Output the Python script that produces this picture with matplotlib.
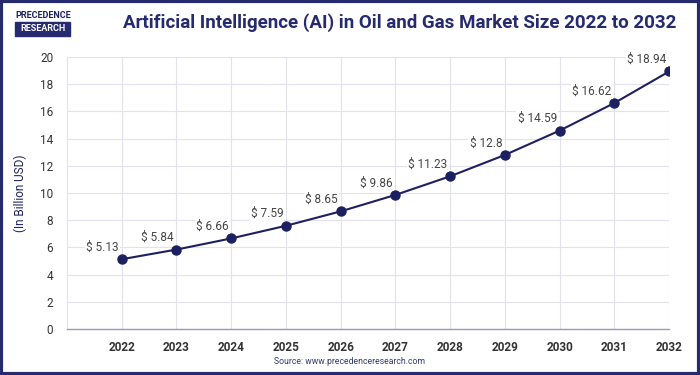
import matplotlib
matplotlib.use("Agg")
import matplotlib.pyplot as plt
from matplotlib.patches import Rectangle

years = ["2022", "2023", "2024", "2025", "2026", "2027", "2028", "2029", "2030", "2031", "2032"]
market_size = [5.13, 5.84, 6.66, 7.59, 8.65, 9.86, 11.23, 12.8, 14.59, 16.62, 18.94]
y_ticks = [0, 2, 4, 6, 8, 10, 12, 14, 16, 18, 20]

navy = "#1d2060"
grid_col = "#e2e2ee"

plt.rcParams["font.family"] = ["Roboto", "DejaVu Sans"]

fig = plt.figure(figsize=(7, 3.75), dpi=100)
ax = fig.add_axes([0.0957, 0.1227, 0.8603, 0.7253])

xs = list(range(len(years)))
ax.plot(xs, market_size, color=navy, lw=1.5, marker="o", markersize=6.5, zorder=3)

for x, v in zip(xs, market_size):
    ax.annotate(f"$ {v:g}", (x, v), xytext=(-2, 4), textcoords="offset points",
                ha="right", va="bottom", fontsize=8.5, color="#444444",
                bbox=dict(boxstyle="square,pad=0.1", fc="white", ec="none"), zorder=4)

ax.set_xlim(-1, len(years) - 1)
ax.set_ylim(0, 20)
ax.set_xticks(xs)
ax.set_xticklabels(years, fontweight="bold", fontsize=8.5, color="#333333")
ax.set_yticks(y_ticks)
ax.set_yticklabels([str(t) for t in y_ticks], fontsize=8.5, color="#333333")
ax.tick_params(axis="both", length=0)
ax.tick_params(axis="y", pad=10)
ax.tick_params(axis="x", pad=9)

ax.grid(True, color=grid_col, lw=0.8, zorder=0)
ax.set_axisbelow(True)
for s in ["top", "right"]:
    ax.spines[s].set_visible(False)
ax.spines["left"].set_color(grid_col)
ax.spines["bottom"].set_color("#9a9ab8")
ax.spines["bottom"].set_linewidth(1.0)

ax.set_ylabel("(In Billion USD)", color=navy, fontsize=8.5, labelpad=9)

fig.text(0.571, 0.94, "Artificial Intelligence (AI) in Oil and Gas Market Size 2022 to 2032",
         ha="center", va="center", fontsize=13.5, fontweight="bold", color="#262a6e")
fig.text(0.50, 0.035, "Source: www.precedenceresearch.com", ha="center", va="center",
         fontsize=6.2, color="#333a6e")

# logo
fig.text(0.0614, 0.958, "PRECEDENCE", ha="center", va="center", fontsize=6.5,
         fontweight="bold", color=navy, fontstretch="condensed")
fig.patches.append(Rectangle((0.021, 0.905), 0.079, 0.036, transform=fig.transFigure,
                             color="#262a6e", zorder=1))
fig.text(0.0614, 0.923, "RESEARCH", ha="center", va="center", fontsize=6.5,
         fontweight="bold", color="white", zorder=2)

# border
fig.patches.append(Rectangle((0.002, 0.003), 0.996, 0.994, transform=fig.transFigure,
                             fill=False, ec="#262a6e", lw=3, zorder=10))

fig.savefig("out.png", dpi=100)
